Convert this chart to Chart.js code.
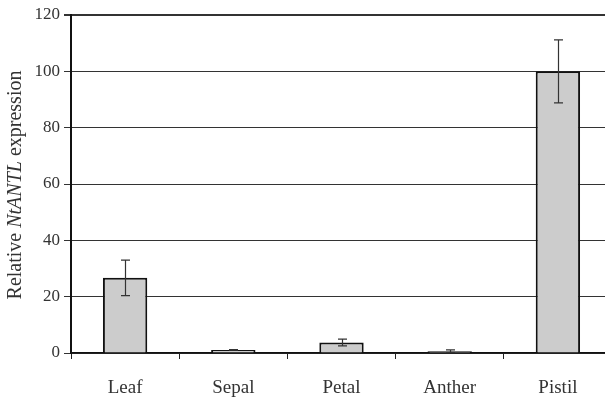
<!DOCTYPE html>
<html><head><meta charset="utf-8">
<script src="https://cdn.jsdelivr.net/npm/chart.js@4"></script>
<style>html,body{margin:0;padding:0;overflow:hidden;background:#fff;width:605px;height:398px}
#wrap{width:612px;height:398px;position:relative}</style>
</head><body>
<div id="wrap"><canvas id="c" width="612" height="398"></canvas></div>
<script>
const categories = ["Leaf", "Sepal", "Petal", "Anther", "Pistil"];
const values = [26.7, 1.1, 3.7, 0.6, 100];
const errors = [6.3, 0.1, 1.2, 0.5, 11.2];
const yTicks = [0, 20, 40, 60, 80, 100, 120];

const FONT = "'Liberation Serif', 'DejaVu Serif', serif";

const errorBars = {
  id: 'errorBars',
  afterDatasetsDraw(chart) {
    const ctx = chart.ctx, y = chart.scales.y;
    const meta = chart.getDatasetMeta(0);
    ctx.save();
    ctx.strokeStyle = '#333'; ctx.lineWidth = 1.2;
    meta.data.forEach((bar, i) => {
      const x = Math.round(bar.x) + 0.5;
      const top = y.getPixelForValue(values[i] + errors[i]);
      const bot = y.getPixelForValue(values[i] - errors[i]);
      ctx.beginPath();
      ctx.moveTo(x, top); ctx.lineTo(x, bot);
      ctx.moveTo(x - 4.5, top); ctx.lineTo(x + 4.5, top);
      ctx.moveTo(x - 4.5, bot); ctx.lineTo(x + 4.5, bot);
      ctx.stroke();
    });
    ctx.restore();
  }
};

const yTitle = {
  id: 'yTitle',
  afterDraw(chart) {
    const ctx = chart.ctx;
    const parts = [["Relative ", "normal"], ["NtANTL", "italic"], [" expression", "normal"]];
    ctx.save();
    ctx.fillStyle = '#333';
    ctx.textBaseline = 'middle';
    let total = 0;
    parts.forEach(p => { ctx.font = p[1] + " 20px " + FONT; total += ctx.measureText(p[0]).width; });
    ctx.translate(16, 185);
    ctx.rotate(-Math.PI / 2);
    let x = -total / 2;
    parts.forEach(p => {
      ctx.font = p[1] + " 20px " + FONT;
      ctx.textAlign = 'left';
      ctx.fillText(p[0], x, 0);
      x += ctx.measureText(p[0]).width;
    });
    ctx.restore();
  }
};

new Chart(document.getElementById('c'), {
  type: 'bar',
  data: {
    labels: categories,
    datasets: [{
      data: values,
      backgroundColor: '#cccccc',
      borderColor: '#111',
      borderWidth: 2,
      barPercentage: 0.41,
      categoryPercentage: 1.0
    }]
  },
  options: {
    responsive: false,
    animation: false,
    layout: { padding: { top: 15, right: 0, left: 0, bottom: 0 } },
    plugins: { legend: { display: false }, tooltip: { enabled: false } },
    scales: {
      x: {
        offset: true,
        grid: { offset: true, drawOnChartArea: false, drawTicks: true, tickLength: 6, color: '#222', lineWidth: 1 },
        border: { color: '#111', width: 1.5 },
        ticks: { color: '#333', font: { family: FONT, size: 19 }, padding: 18 },
        afterFit(s) { s.height = 45; }
      },
      y: {
        min: 0, max: 120,
        afterBuildTicks(s) { s.ticks = yTicks.map(v => ({ value: v })); },
        grid: {
          color: '#333',
          lineWidth: c => (c.tick && c.tick.value === 120 ? 2 : 1),
          tickLength: 7
        },
        border: { color: '#111', width: 2 },
        ticks: { color: '#333', font: { family: FONT, size: 17 }, padding: 4 },
        afterFit(s) { s.width = 71; }
      }
    }
  },
  plugins: [errorBars, yTitle]
});
</script>
</body></html>
